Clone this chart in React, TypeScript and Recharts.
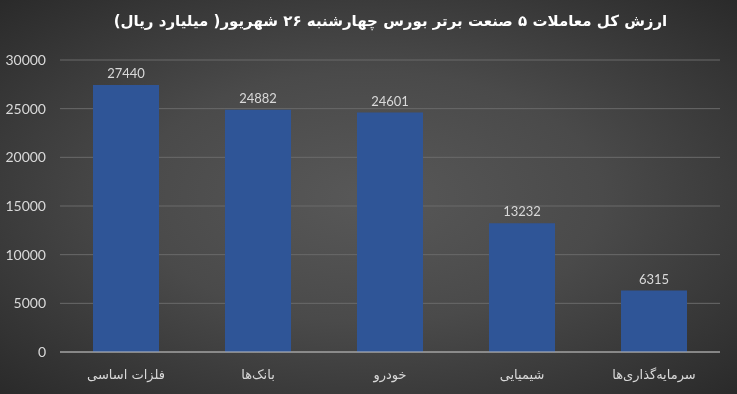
import React from "react";
import { BarChart, Bar, XAxis, YAxis, CartesianGrid, LabelList } from "recharts";

const categories = ["فلزات اساسی", "بانک‌ها", "خودرو", "شیمیایی", "سرمایه‌گذاری‌ها"];
const values = [27440, 24882, 24601, 13232, 6315];
const yTicks = [0, 5000, 10000, 15000, 20000, 25000, 30000];
const title = "ارزش کل معاملات ۵ صنعت برتر بورس چهارشنبه ۲۶ شهریور( میلیارد ریال)";

const data = categories.map((c, i) => ({ name: c, value: values[i] }));
const FONT = "Lato, 'DejaVu Sans', sans-serif";

export default function App() {
  return (
    <div
      style={{
        position: "fixed",
        left: 0,
        top: 0,
        width: 737,
        height: 394,
        background: "radial-gradient(ellipse at 50% 50%, #585858 0%, #4a4a4a 45%, #2a2a2a 100%)",
        fontFamily: FONT,
      }}
    >
      <div
        style={{
          position: "absolute",
          left: 22,
          top: 12,
          width: 737,
          textAlign: "center",
          color: "#ffffff",
          fontWeight: "bold",
          fontSize: 15,
          direction: "rtl",
          fontFamily: "'DejaVu Sans', sans-serif",
        }}
      >
        {title}
      </div>
      <BarChart
        width={737}
        height={394}
        data={data}
        margin={{ top: 60, right: 17, bottom: 12, left: 0 }}
        barCategoryGap="25%"
        style={{ position: "absolute", left: 0, top: 0 }}
      >
        <CartesianGrid vertical={false} stroke="#6a6a6a" />
        <XAxis
          dataKey="name"
          height={30}
          axisLine={{ stroke: "#bfbfbf" }}
          tickLine={false}
          tick={{ fill: "#d9d9d9", fontSize: 13, fontFamily: "'DejaVu Sans', sans-serif" }}
          tickMargin={12}
          interval={0}
        />
        <YAxis
          width={60}
          domain={[0, 30000]}
          ticks={yTicks}
          axisLine={false}
          tickLine={false}
          tickSize={0}
          tickMargin={14}
          tick={{ fill: "#d9d9d9", fontSize: 14, fontFamily: FONT }}
        />
        <Bar dataKey="value" fill="#2f5597" isAnimationActive={false}>
          <LabelList
            dataKey="value"
            position="top"
            offset={7}
            fill="#d9d9d9"
            fontSize={13}
            fontFamily={FONT}
          />
        </Bar>
      </BarChart>
    </div>
  );
}
